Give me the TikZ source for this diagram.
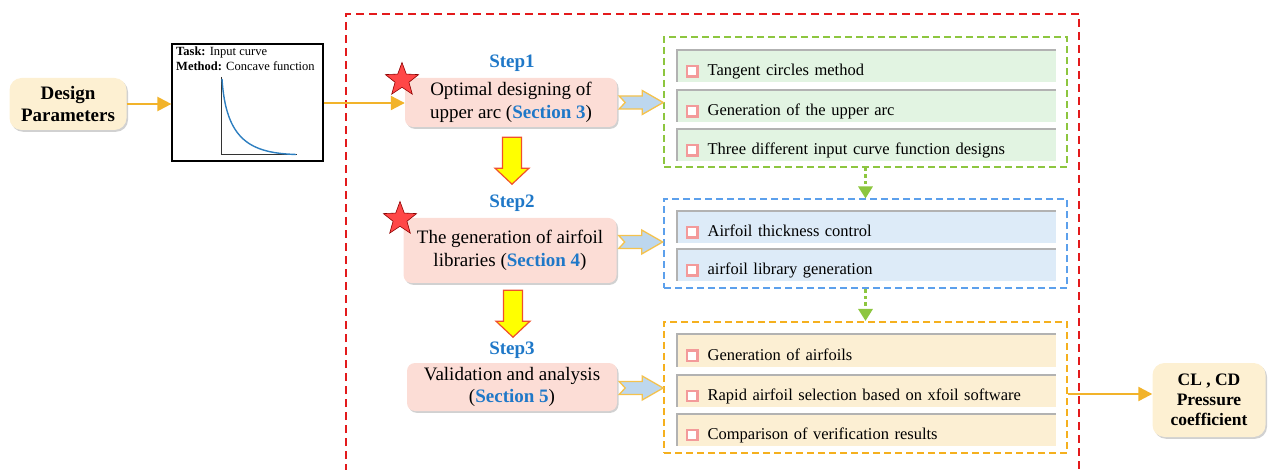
\documentclass[tikz,border=0pt]{standalone}
\usepackage{fontspec}
\setmainfont{Liberation Serif}
\usetikzlibrary{shapes.geometric,shadows,arrows.meta,calc}
\definecolor{orangeA}{HTML}{F2B32A}
\definecolor{redD}{HTML}{E31A1C}
\definecolor{greenD}{HTML}{8DC63F}
\definecolor{blueD}{HTML}{5CA0EC}
\definecolor{orangeD}{HTML}{F5B01E}
\definecolor{pinkS}{HTML}{FCDDD6}
\definecolor{itemG}{HTML}{E2F4E2}
\definecolor{itemB}{HTML}{DDEBF8}
\definecolor{itemO}{HTML}{FCEFD3}
\definecolor{sqc}{HTML}{F39A9A}
\definecolor{blueT}{HTML}{1F78C8}
\definecolor{designF}{HTML}{FDF0D2}
\definecolor{yelA}{HTML}{FFFF00}
\definecolor{yelB}{HTML}{F0502A}
\definecolor{fatF}{HTML}{BDD7EE}
\definecolor{fatD}{HTML}{F4C24E}
\definecolor{curveC}{HTML}{2E7FC0}
\newcommand{\bsq}{\raisebox{0.5pt}{\setlength\fboxrule{2.2pt}\setlength\fboxsep{0pt}\fcolorbox{sqc}{white}{\rule{0pt}{8pt}\hspace{8pt}}}\hspace{9pt}}
\newcommand{\sect}[1]{\textcolor{blueT}{\textbf{#1}}}
\tikzset{
  softshadow/.style={drop shadow={opacity=0.3,shadow xshift=1.5pt,shadow yshift=-1.8pt,fill=black!60}},
  stepbox/.style={rounded corners=8pt,fill=pinkS,align=center,font=\fontsize{19}{22.5}\selectfont,softshadow,inner sep=2pt},
  steplbl/.style={text=blueT,font=\fontsize{19}{22}\selectfont\bfseries},
  endbox/.style={rounded corners=12pt,fill=designF,align=center,softshadow},
  item/.style={anchor=west,fill=#1,text width=360pt,inner xsep=10pt,inner ysep=6.5pt,text height=20pt,text depth=0pt,align=left,
    font=\fontsize{16.5}{19}\selectfont,
    path picture={\draw[black!30,line width=3.5pt] (path picture bounding box.south west) -- (path picture bounding box.north west) -- (path picture bounding box.north east);}},
  group/.style={draw=#1,dashed,line width=2pt,dash pattern=on 7pt off 4pt,minimum width=403pt,inner sep=0pt},
  oarrow/.style={draw=orangeA,line width=2.2pt,-{Triangle[length=14pt,width=14pt]}},
  gdot/.style={draw=greenD,line width=3.5pt,dash pattern=on 3.5pt off 3pt,-{Triangle[length=12pt,width=14pt]}},
  redstar/.style={star,star points=5,star point ratio=2.4,minimum size=35pt,inner sep=0pt,fill=red!72!white,draw=red!55!black,line width=0.6pt},
  pics/fatarr/.style={code={\draw[fill=fatF,draw=fatD,line width=1.3pt,line join=miter]
      (0,-6.5) -- (23,-6.5) -- (23,-12) -- (44,0) -- (23,12) -- (23,6.5) -- (0,6.5) -- (6,0) -- cycle;}},
  pics/yelarr/.style={code={\draw[fill=yelA,draw=yelB,line width=1.2pt,line join=miter]
      (-9.5,0) -- (9.5,0) -- (9.5,31) -- (17,31) -- (0,47) -- (-17,31) -- (-9.5,31) -- cycle;}},
}
\begin{document}
\begin{tikzpicture}[x=1pt,y=-1pt]
\useasboundingbox (0,0) rectangle (1269,470);
% red dashed frame
\draw[redD,line width=2pt,dash pattern=on 8pt off 5pt] (346,472) -- (346,14) -- (1079,14) -- (1079,472);

% Design parameters
\node[endbox,minimum width=117pt,minimum height=52pt,font=\fontsize{19}{22}\selectfont\bfseries] (design) at (68,104) {Design\\Parameters};
% task box
\node[draw=black,line width=1.2pt,minimum width=151pt,minimum height=117pt,inner sep=0pt] (task) at (247.5,102.5) {};
\node[anchor=north west,align=left,font=\fontsize{12.5}{15}\selectfont,inner sep=0pt] (tasktxt) at (176,47) {\textbf{Task:} Input curve\\\textbf{Method:} Concave function};
\draw[black!80,line width=1pt] (221,77) -- (221,155) -- (297,155);
\draw[curveC,line width=1.4pt] (222,79) .. controls (226,140) and (250,153) .. (296,154.5);

% steps
\node[steplbl] (l1) at (512,63) {Step1};
\node[stepbox,minimum width=212pt,minimum height=49pt] (s1) at (511,102.5) {Optimal designing of\\upper arc (\sect{Section 3})};
\node[redstar] (st1) at (402,80) {};
\node[steplbl] (l2) at (512,203) {Step2};
\node[stepbox,minimum width=213pt,minimum height=65pt] (s2) at (510,250.5) {The generation of airfoil\\libraries (\sect{Section 4})};
\node[redstar] (st2) at (400,219) {};
\node[steplbl] (l3) at (512,350) {Step3};
\node[stepbox,minimum width=210pt,minimum height=48pt] (s3) at (512,387) {Validation and analysis\\(\sect{Section 5})};

% yellow arrows
\pic at ($(s1.south)+(1,10)$) {yelarr};
\pic at ($(s2.south)+(3,7)$) {yelarr};

% groups
\node[group=greenD,minimum height=130pt] (gbox) at (865.5,102) {};
\node[group=blueD,minimum height=89pt] (bbox) at (865.5,244) {};
\node[group=orangeD,minimum height=131pt] (obox) at (865.5,387.5) {};

% items
\node[item=itemG] (g1) at (676,66) {\bsq Tangent circles method};
\node[item=itemG] (g2) at (676,106) {\bsq Generation of the upper arc};
\node[item=itemG] (g3) at (676,145) {\bsq Three different input curve function designs};
\node[item=itemB] (b1) at (676,227) {\bsq Airfoil thickness control};
\node[item=itemB] (b2) at (676,265) {\bsq airfoil library generation};
\node[item=itemO] (o1) at (676,350) {\bsq Generation of airfoils};
\node[item=itemO] (o2) at (676,390.5) {\bsq Rapid airfoil selection based on xfoil software};
\node[item=itemO] (o3) at (676,429.5) {\bsq Comparison of verification results};

% fat arrows
\pic at ($(s1.east)+(2,0)$) {fatarr};
\pic at ($(s2.east |- 0,242)+(2,0)$) {fatarr};
\pic at ($(s3.east)+(2,1)$) {fatarr};

% dotted green arrows
\draw[gdot] (gbox.south) -- (bbox.north);
\draw[gdot] (bbox.south) -- (obox.north);

% end box
\node[endbox,minimum width=113pt,minimum height=74pt,font=\fontsize{17.5}{20}\selectfont\bfseries] (cl) at (1209,400) {CL , CD\\Pressure\\coefficient};

% orange connectors
\draw[oarrow] (design.east) -- (task.west |- design.east);
\draw[oarrow] (task.east |- 0,103) -- (s1.west |- 0,103);
\draw[oarrow] (obox.east |- 0,394) -- (cl.west |- 0,394);
\end{tikzpicture}
\end{document}
